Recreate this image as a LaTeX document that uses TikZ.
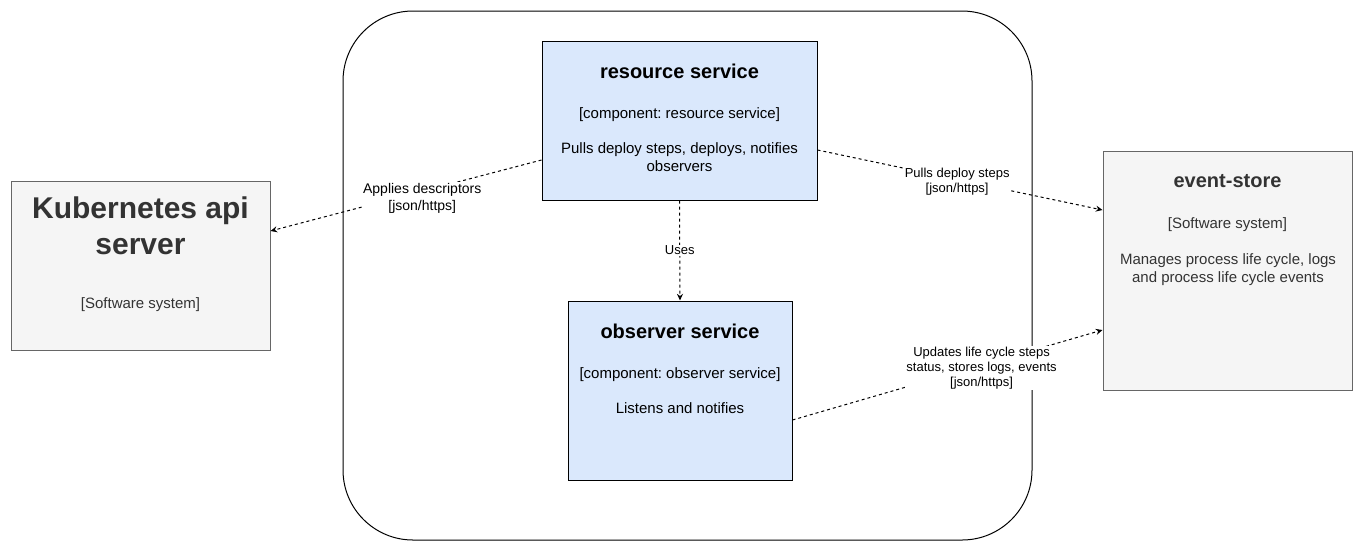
\documentclass[tikz,border=0pt]{standalone}
\usepackage{fontspec}
\setmainfont{Liberation Sans}
\frenchspacing
\usetikzlibrary{arrows.meta}
\definecolor{bluefill}{HTML}{DAE8FC}
\definecolor{greyfill}{HTML}{F5F5F5}
\definecolor{greyline}{HTML}{666666}
\definecolor{greytext}{HTML}{333333}

\begin{document}
\begin{tikzpicture}[x=0.75pt,y=-0.75pt]
      \tikzstyle{every node}+=[inner sep=0pt]
      \tikzstyle{comp}=[draw=black,fill=bluefill,line width=0.75pt]
      \tikzstyle{sys}=[draw=greyline,fill=greyfill,line width=0.75pt]
      \tikzstyle{rel}=[draw=black,line width=0.75pt,dash pattern=on 2.25pt off 2.25pt,-{Stealth[length=5pt,width=4.5pt]}]
      \tikzstyle{rellabel}=[fill=white,inner sep=1pt,align=center,font=\fontsize{9.75}{11}\selectfont]
      \tikzstyle{title}=[font=\bfseries\fontsize{15}{18}\selectfont]
      \tikzstyle{body}=[align=center,font=\fontsize{11.25}{13.5}\selectfont]
      \useasboundingbox (0,0) rectangle (1363,551);
      \node [draw=black,line width=0.75pt,rounded corners=52.5pt,minimum width=516.75pt,minimum height=396.75pt] (boundary) at (687.5,275.5) {};
      \node [comp,minimum width=206.25pt,minimum height=119.25pt] (res) at (679.5,120.5) {};
      \node [title] (res-title) at (679.5,71) {resource service};
      \node [body] (res-type) at (679.5,115) {[component: resource service]};
      \node [body] (res-desc) at (679.5,157) {Pulls deploy steps, deploys, notifies\\observers};
      \node [comp,minimum width=168pt,minimum height=134.25pt] (obs) at (680,390.5) {};
      \node [title] (obs-title) at (680,331) {observer service};
      \node [body] (obs-type) at (680,375) {[component: observer service]};
      \node [body] (obs-desc) at (680,408) {Listens and notifies};
      \node [sys,minimum width=194.25pt,minimum height=126.75pt] (kube) at (140.5,265.5) {};
      \node [title,align=center,text=greytext,font=\bfseries\fontsize{22.5}{27}\selectfont] (kube-title) at (140.5,226) {Kubernetes api\\server};
      \node [body,text=greytext] (kube-type) at (140.5,305) {[Software system]};
      \node [sys,minimum width=186.75pt,minimum height=179.25pt] (evt) at (1227.5,270.5) {};
      \node [title,text=greytext] (evt-title) at (1227.5,181) {event-store};
      \node [body,text=greytext] (evt-type) at (1227.5,225) {[Software system]};
      \node [body,text=greytext] (evt-desc) at (1228,270) {Manages process life cycle, logs\\and process life cycle events};
      \draw [rel] ([yshift=-29.625pt]res.west) -- node [rellabel,font=\fontsize{10.5}{12.6}\selectfont,pos=0.44,yshift=-5.25pt] (lbl-apply) {Applies descriptors\\{}[json/https]} ([yshift=25.875pt]kube.east);
      \draw [rel] ([yshift=-22.125pt]res.east) -- node [rellabel,pos=0.49,yshift=-1.5pt] (lbl-pull) {Pulls deploy steps\\{}[json/https]} ([yshift=45.375pt]evt.west);
      \draw [rel] (res.south) -- node [rellabel,pos=0.5] (lbl-uses) {Uses} (obs.north);
      \draw [rel] ([yshift=-22.125pt]obs.east) -- node [rellabel,pos=0.61,yshift=-2.25pt] (lbl-update) {Updates life cycle steps\\status, stores logs, events\\{}[json/https]} ([yshift=-44.625pt]evt.west);
\end{tikzpicture}
\end{document}
